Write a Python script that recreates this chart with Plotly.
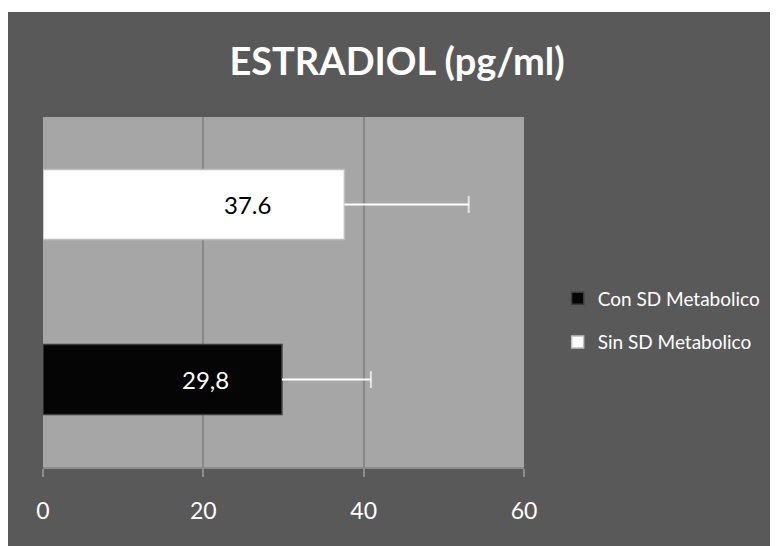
import plotly.graph_objects as go

# ---- data ----
series_names = ["Con SD Metabolico", "Sin SD Metabolico"]
values = [29.8, 37.6]
errors = [11.1, 15.5]
value_labels = ["29,8", "37.6"]
title_text = "ESTRADIOL (pg/ml)"
x_ticks = [0, 20, 40, 60]

# ---- style ----
bar_colors = ["#050505", "#ffffff"]
bar_edges = ["#3a3a3a", "#bfbfbf"]
label_colors = ["#ffffff", "#000000"]
FONT = "Lato"
LABEL_FRAC = 0.68

W, H = 770, 538  # page body has an 8px margin
L, R, T, B = 35, 252, 109, 79

fig = go.Figure()
for i, name in enumerate(series_names):
    fig.add_trace(go.Bar(
        y=[name], x=[values[i]], name=name, orientation="h",
        marker=dict(color=bar_colors[i], line=dict(color=bar_edges[i], width=1.5)),
        legendgroup=name,
        hoverinfo="x",
    ))
for i, name in enumerate(series_names):
    # plus-only error bar (no cap at the bar end)
    fig.add_trace(go.Scatter(
        y=[name, name], x=[values[i], values[i] + errors[i]],
        mode="lines+markers", showlegend=False, hoverinfo="skip",
        line=dict(color="#ffffff", width=2),
        marker=dict(symbol="line-ns", size=[0, 12],
                    line=dict(color="#ffffff", width=2)),
    ))
    fig.add_annotation(
        x=values[i] * LABEL_FRAC, y=name, xref="x", yref="y",
        text=value_labels[i], showarrow=False,
        font=dict(family=FONT, size=24, color=label_colors[i]),
        xanchor="center", yanchor="middle",
    )

plot_h = H - T - B
# thin white strip along the top edge
fig.add_shape(type="rect", xref="paper", yref="paper",
              x0=-0.5, x1=2.0, y0=(plot_h + T - 4) / plot_h, y1=(plot_h + T + 2) / plot_h,
              fillcolor="#ffffff", line=dict(width=0), layer="above")

fig.update_layout(
    width=W, height=H,
    margin=dict(l=L, r=R, t=T, b=B, pad=0),
    paper_bgcolor="#595959",
    plot_bgcolor="#a6a6a6",
    barmode="overlay",
    bargap=0.6,
    title=dict(text=title_text, x=389 / W, xanchor="center",
               y=1 - 54 / H, yanchor="middle",
               font=dict(family=FONT, size=38, color="#ffffff", weight="bold")),
    legend=dict(x=1.07, xanchor="left", y=0.419, yanchor="middle",
                font=dict(family=FONT, size=19, color="#ffffff"),
                bgcolor="rgba(0,0,0,0)", traceorder="grouped",
                tracegroupgap=16, itemwidth=30),
    showlegend=True,
    xaxis=dict(range=[0, 60], tickvals=x_ticks, showgrid=True,
               gridcolor="#878787", gridwidth=1.5, zeroline=False,
               showline=True, linecolor="#8c8c8c", linewidth=2,
               ticks="outside", ticklen=8, tickcolor="#8c8c8c", tickwidth=1.5,
               tickfont=dict(family=FONT, size=23, color="#ffffff"),
               ticklabelstandoff=14, fixedrange=True),
    yaxis=dict(showticklabels=False, showgrid=False, zeroline=False,
               showline=False, categoryorder="array",
               categoryarray=series_names, range=[-0.5, 1.5], fixedrange=True),
)

fig.write_html("out.html")
